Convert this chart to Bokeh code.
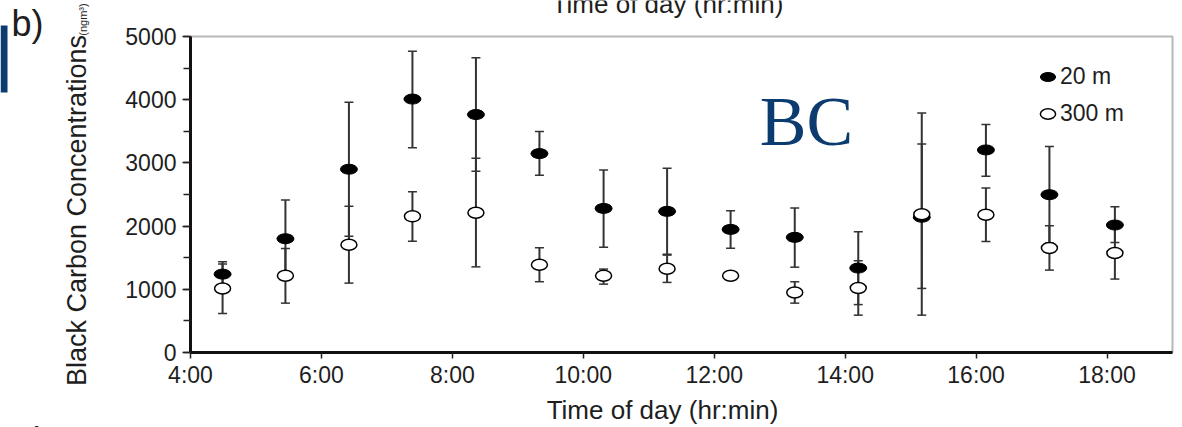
import numpy as np
from bokeh.plotting import figure
from bokeh.models import (ColumnDataSource, Whisker, TeeHead, Label, Legend, LegendItem,
                          FixedTicker, SingleIntervalTicker, Range1d, BoxAnnotation)
from bokeh.embed import file_html
from bokeh.resources import INLINE

# ---- data ----
times = [4.49, 5.45, 6.42, 7.39, 8.36, 9.33, 10.31, 11.28, 12.25, 13.23, 14.20, 15.17, 16.15, 17.12, 18.12]

bc20 = [1240, 1800, 2900, 4010, 3765, 3147, 2280, 2233, 1948, 1822, 1336, 2140, 3205, 2497, 2017]
bc20_low = [1050, 1200, 1840, 3240, 2868, 2805, 1665, 1555, 1650, 1350, 758, 591, 2790, 1733, 1740]
bc20_high = [1436, 2413, 3960, 4768, 4662, 3495, 2888, 2915, 2244, 2286, 1911, 3791, 3606, 3258, 2307]

bc300 = [1014, 1214, 1705, 2154, 2212, 1389, 1214, 1325, 1214, 950, 1019, 2186, 2181, 1653, 1573]
bc300_low = [618, 781, 1098, 1760, 1355, 1120, 1082, 1109, 1180, 781, 591, 1014, 1758, 1304, 1162]
bc300_high = [1400, 1645, 2313, 2545, 3073, 1658, 1320, 1541, 1250, 1119, 1452, 3300, 2603, 2006, 1984]

xtick_vals = [4, 6, 8, 10, 12, 14, 16, 18]
xtick_labels = ["4:00", "6:00", "8:00", "10:00", "12:00", "14:00", "16:00", "18:00"]
series_labels = ["20 m", "300 m"]

X0, X1 = 4, 19          # plotted box, hours
Y0, Y1 = 0, 5000        # plotted box, ng/m3

FONT = "Liberation Sans"
TXT = "#1e1e1e"
W, H = 1182, 427
# box placement in canvas pixels
BL, BR, BT, BB = 190, 1172, 36, 352
kx = (X1 - X0) / (BR - BL)
ky = (Y1 - Y0) / (BB - BT)


def px(x):
    return X0 + (x - BL) * kx


def py(y):
    return Y0 + (BB - y) * ky


p = figure(width=W, height=H, x_range=Range1d(px(0), px(W)), y_range=Range1d(py(H), py(0)),
           output_backend="svg", toolbar_location=None, min_border=0,
           min_border_left=0, min_border_right=0, min_border_top=0, min_border_bottom=0)
p.xgrid.visible = False
p.ygrid.visible = False
p.background_fill_color = "white"
p.border_fill_color = "white"
p.outline_line_color = None

# box (top / right edges)
p.add_layout(BoxAnnotation(left=X0, right=X1, bottom=Y0, top=Y1, fill_alpha=0,
                           line_color="#111111", line_width=2, level="underlay"))

# axes, fixed at the box edges
xa = p.xaxis[0]
xa.fixed_location = Y0
xa.bounds = (X0, X1)
xa.ticker = FixedTicker(ticks=xtick_vals, minor_ticks=[])
xa.major_label_overrides = {v: l for v, l in zip(xtick_vals, xtick_labels)}
ya = p.yaxis[0]
ya.fixed_location = X0
ya.bounds = (Y0, Y1)
ya.ticker = SingleIntervalTicker(interval=1000, num_minor_ticks=2)
for ax in (xa, ya):
    ax.axis_line_width = 3
    ax.axis_line_color = "#111111"
    ax.major_tick_line_color = "#222222"
    ax.minor_tick_line_color = "#222222"
    ax.major_tick_line_width = 1.5
    ax.minor_tick_line_width = 1.5
    ax.major_tick_in = 0
    ax.minor_tick_in = 0
    ax.major_label_text_font = FONT
    ax.major_label_text_font_size = "23px"
    ax.major_label_text_color = TXT
xa.major_tick_out = 6
xa.major_label_standoff = 3
ya.major_tick_out = 8
ya.minor_tick_out = 7
ya.major_label_standoff = 6

# error bars
src20 = ColumnDataSource(dict(x=times, y=bc20, lo=bc20_low, hi=bc20_high))
src300 = ColumnDataSource(dict(x=times, y=bc300, lo=bc300_low, hi=bc300_high))
for src in (src20, src300):
    w = Whisker(source=src, base="x", lower="lo", upper="hi",
                line_color="#333333", line_width=2,
                upper_head=TeeHead(size=9, line_color="#333333", line_width=1.5),
                lower_head=TeeHead(size=9, line_color="#333333", line_width=1.5))
    p.add_layout(w)

r20 = p.ellipse(x="x", y="y", width=17, height=10, width_units="screen", height_units="screen",
                source=src20, fill_color="black", line_color="black", line_width=1)
r300 = p.ellipse(x="x", y="y", width=16, height=11, width_units="screen", height_units="screen",
                 source=src300, fill_color="white", line_color="black", line_width=1.5)

legend = Legend(items=[LegendItem(label=series_labels[0], renderers=[r20]),
                       LegendItem(label=series_labels[1], renderers=[r300])],
                location=(1038, 300), orientation="vertical",
                glyph_width=19, glyph_height=19, label_standoff=3, spacing=10,
                padding=0, margin=0, border_line_alpha=0, background_fill_alpha=0,
                label_text_font=FONT, label_text_font_size="23px", label_text_color=TXT)
p.add_layout(legend)


# texts
def add_text(x, y, text, font, size, color=TXT, align="center", baseline="alphabetic", angle=0.0):
    p.add_layout(Label(x=px(x), y=py(y), text=text, text_font=font, text_font_size=size,
                       text_color=color, text_align=align, text_baseline=baseline, angle=angle))


add_text(662, 409, "Time of day (hr:min)", FONT, "26px")
add_text(667, 3, "Time of day (hr:min)", FONT, "26px")
add_text(76, 210, "Black Carbon Concentrations", FONT, "27px", baseline="middle", angle=np.pi / 2)
add_text(82, 19, "(ngm³)", FONT, "11px", baseline="middle", angle=np.pi / 2)
add_text(11, 23, "b)", FONT, "36px", align="left")
add_text(16, 440, "c)", FONT, "36px", align="left")
add_text(806, 121, "BC", "Liberation Serif", "70px", color="#0b3b6f")

# navy side bar at the left edge
p.add_layout(BoxAnnotation(left=px(0), right=px(7), top=py(25), bottom=py(92),
                           fill_color="#0b3b6f", fill_alpha=1, line_alpha=0))

open("out.html", "w").write(file_html(p, INLINE))
